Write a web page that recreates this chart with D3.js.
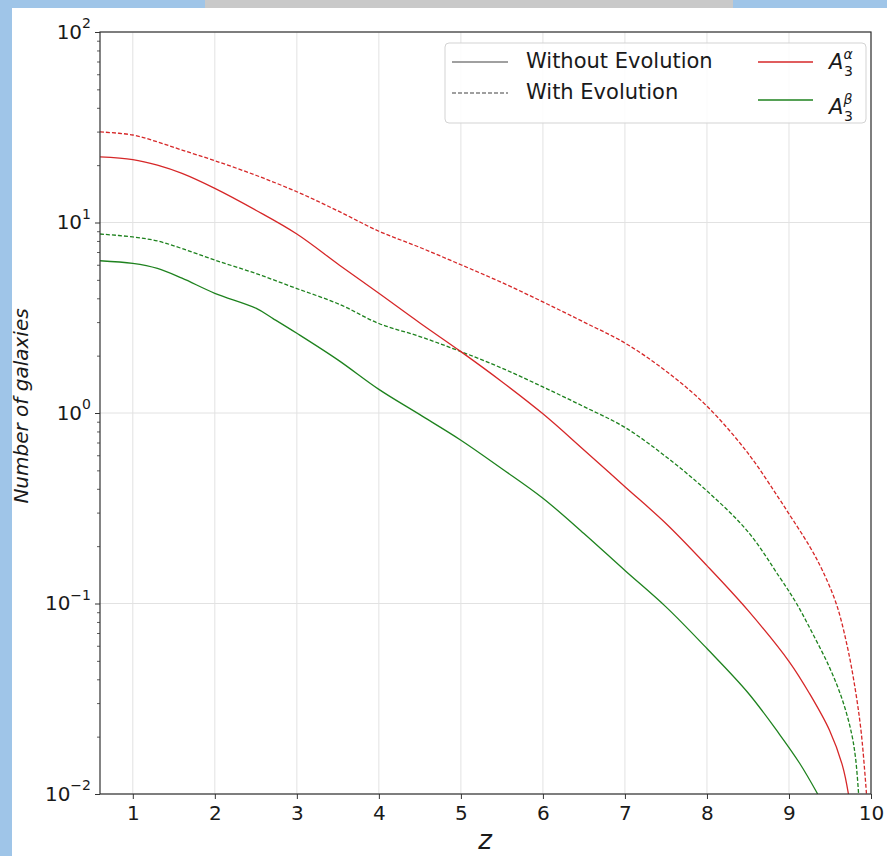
<!DOCTYPE html>
<html>
<head>
<meta charset="utf-8">
<script src="https://cdn.jsdelivr.net/npm/d3@7"></script>
<style>
  html, body { margin: 0; padding: 0; }
  body { width: 887px; height: 856px; background: #9fc5e8; overflow: hidden; }
  svg { display: block; }
  text { font-family: "DejaVu Sans", sans-serif; fill: #1a1a1a; }
</style>
</head>
<body>
<svg id="chart" width="887" height="856"></svg>
<script>
// Number of galaxies vs redshift for the two A3 fields,
// with and without luminosity evolution.

// A3 alpha, without evolution
const zAlphaNoEvo = [0.6, 1.0, 1.3, 1.6, 2.0, 2.5, 3.0, 3.52, 4.0, 4.5, 5.0, 5.5, 6.0, 6.5, 7.0, 7.5, 8.0, 8.5, 9.006, 9.25, 9.494, 9.652, 9.725];
const nAlphaNoEvo = [22.1, 21.4, 20.0, 18.1, 15.1, 11.6, 8.7, 5.97, 4.25, 2.97, 2.1, 1.46, 0.99, 0.64, 0.41, 0.263, 0.158, 0.092, 0.0493, 0.0337, 0.0216, 0.0141, 0.01];

// A3 alpha, with evolution
const zAlphaEvo = [0.6, 1.0, 1.3, 1.6, 2.0, 2.5, 3.0, 3.52, 4.0, 4.5, 5.0, 5.5, 6.0, 6.5, 7.0, 7.5, 8.0, 8.5, 8.885, 8.994, 9.25, 9.408, 9.579, 9.713, 9.81, 9.882, 9.945];
const nAlphaEvo = [29.9, 28.8, 26.5, 24.0, 21.1, 17.7, 14.5, 11.4, 9.0, 7.4, 6.0, 4.84, 3.83, 3.0, 2.33, 1.66, 1.086, 0.615, 0.352, 0.298, 0.2, 0.149, 0.099, 0.059, 0.035, 0.0208, 0.01];

// A3 beta, without evolution
const zBetaNoEvo = [0.6, 1.0, 1.3, 1.6, 2.0, 2.5, 2.71, 3.0, 3.5, 4.0, 4.5, 5.0, 5.5, 6.0, 6.5, 7.0, 7.5, 8.0, 8.5, 8.88, 9.13, 9.35];
const nBetaNoEvo = [6.3, 6.1, 5.74, 5.1, 4.25, 3.55, 3.13, 2.62, 1.9, 1.33, 0.98, 0.72, 0.51, 0.357, 0.233, 0.149, 0.096, 0.058, 0.034, 0.0207, 0.0145, 0.01];

// A3 beta, with evolution
const zBetaEvo = [0.6, 1.0, 1.3, 1.6, 2.0, 2.5, 3.0, 3.52, 4.0, 4.5, 5.0, 5.5, 6.0, 6.5, 7.0, 7.5, 8.0, 8.5, 8.885, 9.092, 9.287, 9.494, 9.653, 9.763, 9.812, 9.849];
const nBetaEvo = [8.7, 8.4, 8.0, 7.3, 6.35, 5.4, 4.5, 3.72, 2.95, 2.52, 2.1, 1.72, 1.37, 1.08, 0.84, 0.59, 0.39, 0.238, 0.1375, 0.1, 0.0697, 0.0462, 0.031, 0.0208, 0.0154, 0.01];

const xTicks = [1, 2, 3, 4, 5, 6, 7, 8, 9, 10];
const yTickExponents = [-2, -1, 0, 1, 2];
const legendStyles = ["Without Evolution", "With Evolution"];
const legendFields = ["\u03b1", "\u03b2"];

const W = 887, H = 856;
const plot = { left: 100, right: 871, top: 32, bottom: 794 };
const RED = "#d62728", GREEN = "#1e821e", GRAY = "#808080";

const svg = d3.select("#chart");

// page frame: white sheet with the top tab strip
svg.append("rect").attr("x", 0).attr("y", 0).attr("width", W).attr("height", H).attr("fill", "#9fc5e8");
svg.append("rect").attr("x", 205).attr("y", 0).attr("width", 528).attr("height", 8).attr("fill", "#c9c9c9");
svg.append("rect").attr("x", 12).attr("y", 8).attr("width", W - 12).attr("height", H - 8).attr("fill", "#ffffff");

const x = d3.scaleLinear().domain([0.6, 10]).range([plot.left, plot.right]);
const y = d3.scaleLog().domain([0.01, 100]).range([plot.bottom, plot.top]);

const g = svg.append("g");

// grid
g.append("g").selectAll("line").data(xTicks).join("line")
  .attr("x1", d => x(d)).attr("x2", d => x(d))
  .attr("y1", plot.top).attr("y2", plot.bottom)
  .attr("stroke", "#e2e2e2").attr("stroke-width", 1);
g.append("g").selectAll("line").data(yTickExponents).join("line")
  .attr("x1", plot.left).attr("x2", plot.right)
  .attr("y1", d => y(Math.pow(10, d))).attr("y2", d => y(Math.pow(10, d)))
  .attr("stroke", "#e2e2e2").attr("stroke-width", 1);

// curves
const series = [
  { z: zAlphaEvo, n: nAlphaEvo, color: RED, dash: "4,2" },
  { z: zBetaEvo, n: nBetaEvo, color: GREEN, dash: "4,2" },
  { z: zAlphaNoEvo, n: nAlphaNoEvo, color: RED, dash: null },
  { z: zBetaNoEvo, n: nBetaNoEvo, color: GREEN, dash: null }
];
const line = d3.line().x(d => x(d[0])).y(d => y(d[1])).curve(d3.curveCatmullRom.alpha(0.5));
svg.append("clipPath").attr("id", "plotclip").append("rect")
  .attr("x", plot.left).attr("y", plot.top)
  .attr("width", plot.right - plot.left).attr("height", plot.bottom - plot.top);
const curves = g.append("g").attr("clip-path", "url(#plotclip)");
series.forEach(s => {
  curves.append("path")
    .attr("d", line(s.z.map((z, i) => [z, s.n[i]])))
    .attr("fill", "none").attr("stroke", s.color).attr("stroke-width", 1.3)
    .attr("stroke-dasharray", s.dash);
});

// x axis
const xAxis = d3.axisBottom(x).tickValues(xTicks).tickSize(5).tickPadding(7).tickFormat(d3.format("d"));
const xg = g.append("g").attr("transform", `translate(0,${plot.bottom})`).call(xAxis);
xg.select(".domain").remove();
xg.selectAll(".tick line").attr("stroke", "#333").attr("stroke-width", 1);
xg.selectAll(".tick text").attr("font-size", 20).attr("font-family", "DejaVu Sans").attr("fill", "#1a1a1a");

// y axis: major ticks with power-of-ten labels, minor ticks
const yMajor = yTickExponents.map(e => Math.pow(10, e));
const yMinor = [];
yTickExponents.slice(0, -1).forEach(e => { for (let k = 2; k <= 9; k++) yMinor.push(k * Math.pow(10, e)); });
const yAxis = d3.axisLeft(y).tickValues(yMajor).tickSize(5).tickPadding(5).tickFormat("");
const yg = g.append("g").attr("transform", `translate(${plot.left},0)`).call(yAxis);
yg.select(".domain").remove();
yg.selectAll(".tick line").attr("stroke", "#333").attr("stroke-width", 1);
yg.selectAll(".tick").each(function(d) {
  const e = Math.round(Math.log10(d));
  const t = d3.select(this).select("text")
    .attr("font-size", 20).attr("x", -9).attr("dy", "0.32em").attr("text-anchor", "end").text(null);
  t.append("tspan").text("10");
  t.append("tspan").attr("font-size", 14).attr("dy", "-0.75em")
    .text(e < 0 ? "\u2212" + Math.abs(e) : String(e));
});
const ymg = g.append("g").attr("transform", `translate(${plot.left},0)`)
  .call(d3.axisLeft(y).tickValues(yMinor).tickSize(3).tickFormat(""));
ymg.select(".domain").remove();
ymg.selectAll(".tick line").attr("stroke", "#333").attr("stroke-width", 0.8);

// frame
g.append("rect").attr("x", plot.left).attr("y", plot.top)
  .attr("width", plot.right - plot.left).attr("height", plot.bottom - plot.top)
  .attr("fill", "none").attr("stroke", "#333").attr("stroke-width", 1.2);

// axis titles
svg.append("text").attr("x", 485).attr("y", 849)
  .attr("text-anchor", "middle").attr("font-size", 26).attr("font-style", "italic").text("z");
svg.append("text").attr("transform", `translate(28,406) rotate(-90)`)
  .attr("text-anchor", "middle").attr("font-size", 20).attr("font-style", "italic").text("Number of galaxies");

// legend
const lg = svg.append("g");
lg.append("rect").attr("x", 445).attr("y", 43).attr("width", 421).attr("height", 80).attr("rx", 4)
  .attr("fill", "rgba(255,255,255,0.85)").attr("stroke", "#d3d3d3").attr("stroke-width", 1);
const styleRows = [{ dash: null, yl: 62, yt: 68 }, { dash: "4,2", yl: 93, yt: 99 }];
styleRows.forEach((r, i) => {
  lg.append("line").attr("x1", 452).attr("x2", 508).attr("y1", r.yl).attr("y2", r.yl)
    .attr("stroke", GRAY).attr("stroke-width", 1.5).attr("stroke-dasharray", r.dash);
  lg.append("text").attr("x", 526).attr("y", r.yt).attr("font-size", 21).text(legendStyles[i]);
});
const fieldRows = [{ color: RED, yl: 62, yt: 69 }, { color: GREEN, yl: 100, yt: 114 }];
fieldRows.forEach((r, i) => {
  lg.append("line").attr("x1", 758).attr("x2", 813).attr("y1", r.yl).attr("y2", r.yl)
    .attr("stroke", r.color).attr("stroke-width", 1.3);
  const t = lg.append("text").attr("x", 829).attr("y", r.yt).attr("font-size", 21);
  t.append("tspan").attr("font-style", "italic").text("A");
  t.append("tspan").attr("font-size", 14).attr("font-style", "italic").attr("dy", -10).text(legendFields[i]);
  t.append("tspan").attr("font-size", 14).attr("x", 844).attr("dy", 17).text("3");
});
</script>
</body>
</html>
